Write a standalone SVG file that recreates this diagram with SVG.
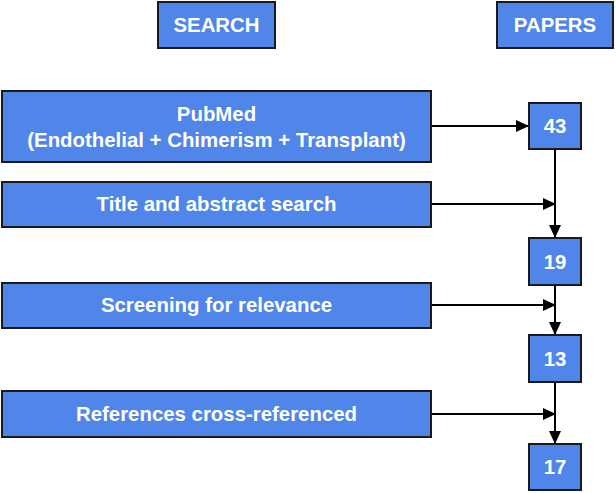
<svg xmlns="http://www.w3.org/2000/svg" width="616" height="493" viewBox="0 0 616 493">
<style>
.box{fill:#5085e9;stroke:#1a1a1a;stroke-width:2}
.t{font-family:"Liberation Sans",Arial,sans-serif;font-weight:bold;font-size:20.4px;fill:#fff;text-anchor:middle}
.c{stroke:#000;stroke-width:2;fill:none}
</style>
<defs>
<marker id="ah" markerUnits="userSpaceOnUse" markerWidth="14" markerHeight="12" refX="13" refY="6" orient="auto">
<path d="M0,0 L13,6 L0,12 Z" fill="#000"/>
</marker>
</defs>
<rect width="616" height="493" fill="#fff"/>
<g id="connectors">
<line class="c" x1="432" y1="126" x2="529" y2="126" marker-end="url(#ah)"/>
<line class="c" x1="555" y1="150" x2="555" y2="238" marker-end="url(#ah)"/>
<line class="c" x1="432" y1="204" x2="556" y2="204" marker-end="url(#ah)"/>
<line class="c" x1="555" y1="286" x2="555" y2="335" marker-end="url(#ah)"/>
<line class="c" x1="432" y1="305" x2="556" y2="305" marker-end="url(#ah)"/>
<line class="c" x1="555" y1="382" x2="555" y2="444" marker-end="url(#ah)"/>
<line class="c" x1="432" y1="414" x2="556" y2="414" marker-end="url(#ah)"/>
</g>
<g id="search">
<rect class="box" x="158" y="2" width="117" height="46"/>
<text class="t" x="216.5" y="32">SEARCH</text>
</g>
<g id="papers">
<rect class="box" x="497" y="2" width="116" height="46"/>
<text class="t" x="555" y="32">PAPERS</text>
</g>
<g id="pubmed">
<rect class="box" x="2" y="91" width="429" height="71"/>
<text class="t" x="216.5" y="121">PubMed</text>
<text class="t" x="216.5" y="147">(Endothelial + Chimerism + Transplant)</text>
</g>
<g id="title-abstract">
<rect class="box" x="2" y="182" width="429" height="45"/>
<text class="t" x="216.5" y="211">Title and abstract search</text>
</g>
<g id="screening">
<rect class="box" x="2" y="283" width="429" height="45"/>
<text class="t" x="216.5" y="312">Screening for relevance</text>
</g>
<g id="references">
<rect class="box" x="2" y="391" width="429" height="46"/>
<text class="t" x="216.5" y="421">References cross-referenced</text>
</g>
<g id="n43">
<rect class="box" x="529" y="103" width="52" height="46"/>
<text class="t" x="555" y="133">43</text>
</g>
<g id="n19">
<rect class="box" x="529" y="238" width="52" height="47"/>
<text class="t" x="555" y="269">19</text>
</g>
<g id="n13">
<rect class="box" x="529" y="335" width="52" height="47"/>
<text class="t" x="555" y="366">13</text>
</g>
<g id="n17">
<rect class="box" x="529" y="444" width="52" height="46"/>
<text class="t" x="555" y="474">17</text>
</g>
</svg>
